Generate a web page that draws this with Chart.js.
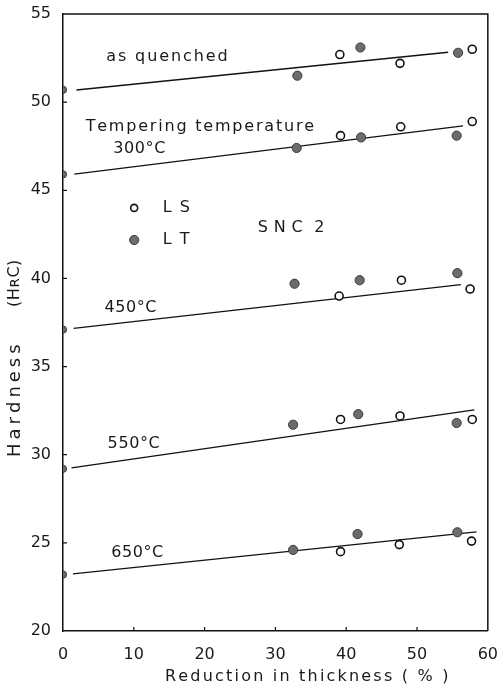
<!DOCTYPE html>
<html>
<head>
<meta charset="utf-8">
<script src="https://cdn.jsdelivr.net/npm/chart.js@4/dist/chart.umd.min.js"></script>
<style>
  body { margin: 0; background: #fff; }
  #wrap { width: 504px; height: 689px; }
</style>
</head>
<body>
<div id="wrap"><canvas id="hardChart" width="504" height="689"></canvas></div>
<script>
// tempering conditions, top to bottom
const conditions = ['as quenched', '300 °C', '450 °C', '550 °C', '650 °C'];

// LT specimens (filled circles): reduction in thickness (%) and hardness (HRC)
const ltReduction = [
  [0, 33.1, 42.0, 55.8],
  [0, 33.0, 42.1, 55.6],
  [0, 32.7, 41.9, 55.7],
  [0, 32.5, 41.7, 55.6],
  [0, 32.5, 41.6, 55.7]
];
const ltHardness = [
  [50.7, 51.5, 53.1, 52.8],
  [45.9, 47.4, 48.0, 48.1],
  [37.1, 39.7, 39.9, 40.3],
  [29.2, 31.7, 32.3, 31.8],
  [23.2, 24.6, 25.5, 25.6]
];

// LS specimens (open circles)
const lsReduction = [
  [39.1, 47.6, 57.8],
  [39.2, 47.7, 57.8],
  [39.0, 47.8, 57.5],
  [39.2, 47.6, 57.8],
  [39.2, 47.5, 57.7]
];
const lsHardness = [
  [52.7, 52.2, 53.0],
  [48.1, 48.6, 48.9],
  [39.0, 39.9, 39.4],
  [32.0, 32.2, 32.0],
  [24.5, 24.9, 25.1]
];

// fitted straight lines: start / end reduction and hardness
const fitReduction = [[1.9, 54.4], [1.6, 56.5], [1.5, 56.2], [1.2, 58.1], [1.4, 58.4]];
const fitHardness = [[50.69, 52.83], [45.92, 48.65], [37.17, 39.65], [29.25, 32.54], [23.24, 25.62]];

const xTicks = [0, 10, 20, 30, 40, 50, 60];
const yTicks = [20, 25, 30, 35, 40, 45, 50, 55];

const toPoints = (xs, ys) => xs.map((x, i) => ({ x: x, y: ys[i] }));

const datasets = [];
conditions.forEach((c, i) => {
  datasets.push({
    label: 'LT ' + c,
    data: toPoints(ltReduction[i], ltHardness[i]),
    showLine: false,
    pointRadius: ctx => (ctx.raw && ctx.raw.x === 0 ? 3.6 : 4.6),
    pointBackgroundColor: '#6c6c6c',
    pointBorderColor: '#3a3a3a',
    pointBorderWidth: 1
  });
  datasets.push({
    label: 'LS ' + c,
    data: toPoints(lsReduction[i], lsHardness[i]),
    showLine: false,
    pointRadius: 4,
    pointBackgroundColor: '#fff',
    pointBorderColor: '#111',
    pointBorderWidth: 1.6
  });
});
conditions.forEach((c, i) => {
  datasets.push({
    label: 'fit ' + c,
    data: toPoints(fitReduction[i], fitHardness[i]),
    showLine: true,
    borderColor: '#111',
    borderWidth: 1.3,
    pointRadius: 0,
    fill: false
  });
});

// draw text one char at a time so letter spacing works everywhere
function spacedText(ctx, text, x, y, spacing) {
  let cx = x;
  for (const ch of text) {
    ctx.fillText(ch, cx, y);
    cx += ctx.measureText(ch).width + spacing;
  }
}

const notes = [
  { text: 'as quenched', x: 6.1, y: 52.56, sp: 1.9 },
  { text: 'Tempering temperature', x: 3.2, y: 48.6, sp: 1.8 },
  { text: '300°C', x: 7.1, y: 47.34, sp: 0.6 },
  { text: 'S N C  2', x: 27.5, y: 42.86, sp: 0.4 },
  { text: '450°C', x: 5.85, y: 38.32, sp: 0.6 },
  { text: '550°C', x: 6.3, y: 30.6, sp: 0.6 },
  { text: '650°C', x: 6.8, y: 24.43, sp: 0.6 }
];

const framePlugin = {
  id: 'frame',
  afterDraw(chart) {
    const ctx = chart.ctx;
    const xs = chart.scales.x, ys = chart.scales.y;
    const a = chart.chartArea;
    ctx.save();
    ctx.strokeStyle = '#111';
    ctx.lineWidth = 1.5;
    ctx.beginPath();
    ctx.moveTo(a.left, a.top);
    ctx.lineTo(a.right, a.top);
    ctx.lineTo(a.right, a.bottom);
    ctx.stroke();

    // inward ticks
    ctx.lineWidth = 1.2;
    ctx.beginPath();
    yTicks.slice(1, -1).forEach(v => {
      const p = ys.getPixelForValue(v);
      ctx.moveTo(a.left, p);
      ctx.lineTo(a.left + 4, p);
    });
    xTicks.slice(1, -1).forEach(v => {
      const p = xs.getPixelForValue(v);
      ctx.moveTo(p, a.bottom);
      ctx.lineTo(p, a.bottom - 4);
    });
    ctx.stroke();

    // curve labels
    ctx.fillStyle = '#1a1a1a';
    ctx.font = '16px "DejaVu Sans"';
    ctx.textBaseline = 'middle';
    ctx.textAlign = 'left';
    notes.forEach(n => {
      spacedText(ctx, n.text, xs.getPixelForValue(n.x), ys.getPixelForValue(n.y), n.sp);
    });

    // legend
    const lx = xs.getPixelForValue(10.05);
    const lsY = ys.getPixelForValue(44.0);
    const ltY = ys.getPixelForValue(42.18);
    ctx.beginPath();
    ctx.arc(lx, lsY, 3.5, 0, Math.PI * 2);
    ctx.fillStyle = '#fff';
    ctx.fill();
    ctx.lineWidth = 1.6;
    ctx.strokeStyle = '#111';
    ctx.stroke();
    ctx.beginPath();
    ctx.arc(lx, ltY, 4.6, 0, Math.PI * 2);
    ctx.fillStyle = '#6c6c6c';
    ctx.fill();
    ctx.lineWidth = 1;
    ctx.strokeStyle = '#3a3a3a';
    ctx.stroke();
    ctx.fillStyle = '#1a1a1a';
    const tx = xs.getPixelForValue(14.1);
    spacedText(ctx, 'LS', tx, lsY, 8);
    spacedText(ctx, 'LT', tx, ltY, 8);

    // axis titles
    ctx.font = '16px "DejaVu Sans"';
    spacedText(ctx, 'Reduction in thickness ( % )', 165, 677, 2.2);

    ctx.translate(15, 457);
    ctx.rotate(-Math.PI / 2);
    ctx.font = '18px "DejaVu Sans"';
    spacedText(ctx, 'Hardness', 0, 0, 4);
    ctx.font = '16px "DejaVu Sans"';
    spacedText(ctx, '(HʀC)', 150, 0, 0.5);
    ctx.restore();
  }
};

new Chart(document.getElementById('hardChart'), {
  type: 'scatter',
  data: { datasets: datasets },
  options: {
    responsive: false,
    animation: false,
    layout: { padding: { top: 14, right: 7, left: 0, bottom: 0 } },
    plugins: { legend: { display: false }, tooltip: { enabled: false } },
    scales: {
      x: {
        type: 'linear',
        min: 0,
        max: 60,
        afterBuildTicks: s => { s.ticks = xTicks.map(v => ({ value: v })); },
        afterFit: s => { s.height = 58; },
        grid: { display: false },
        border: { display: true, color: '#111', width: 1.5 },
        ticks: { color: '#1a1a1a', font: { family: 'DejaVu Sans', size: 16 }, padding: 6, maxRotation: 0 }
      },
      y: {
        type: 'linear',
        min: 20,
        max: 55,
        afterBuildTicks: s => { s.ticks = yTicks.map(v => ({ value: v })); },
        afterFit: s => { s.width = 63; },
        grid: { display: false },
        border: { display: true, color: '#111', width: 1.5 },
        ticks: { color: '#1a1a1a', font: { family: 'DejaVu Sans', size: 16 }, padding: 4 }
      }
    }
  },
  plugins: [framePlugin]
});
</script>
</body>
</html>
